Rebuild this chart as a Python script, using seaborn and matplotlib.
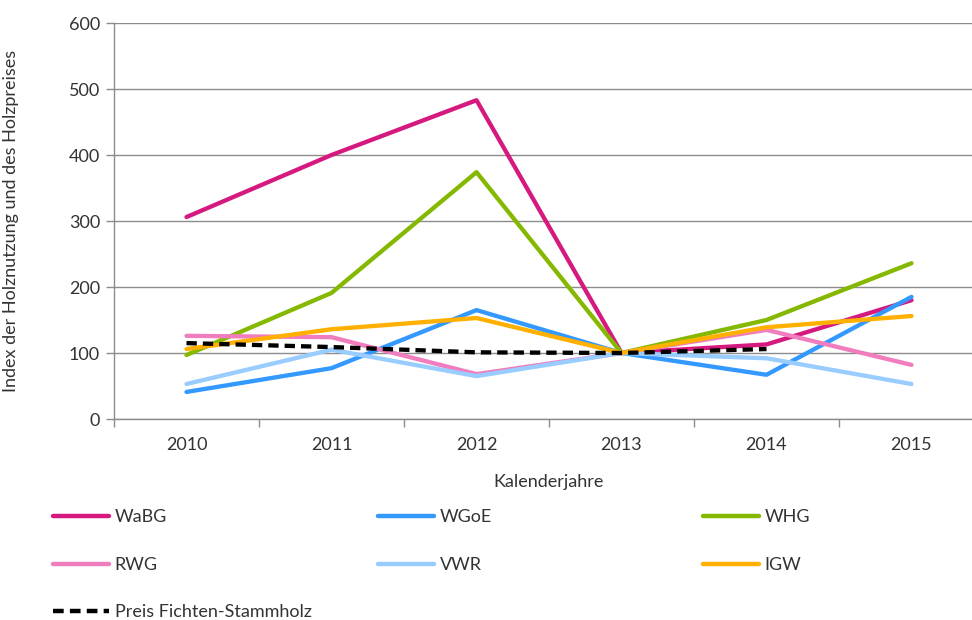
import numpy as np
import pandas as pd
import seaborn as sns
import matplotlib
matplotlib.use("Agg")
import matplotlib.pyplot as plt

years = ["2010", "2011", "2012", "2013", "2014", "2015"]
wabg = [306, 400, 483, 100, 113, 180]
wgoe = [41, 77, 165, 100, 67, 185]
whg = [97, 191, 374, 100, 150, 236]
rwg = [126, 124, 68, 100, 135, 82]
vwr = [53, 105, 65, 100, 92, 53]
igw = [106, 136, 153, 100, 139, 156]
preis = [115, 109, 101, 100, 106, np.nan]

series_names = ["WaBG", "WGoE", "WHG", "RWG", "VWR", "IGW", "Preis Fichten-Stammholz"]
series_vals = [wabg, wgoe, whg, rwg, vwr, igw, preis]
colors = ["#D6197E", "#3399FF", "#85B800", "#F07EBE", "#99CCFF", "#FFB000", "#000000"]

rows = []
for name, vals in zip(series_names, series_vals):
    for i, v in enumerate(vals):
        rows.append({"x": i, "value": v, "series": name})
df = pd.DataFrame(rows)

sns.set_theme(style="white")
plt.rcParams['font.family'] = ['Lato', 'DejaVu Sans']
TXT = '#333333'
FS = 13

fig = plt.figure(figsize=(9.72, 6.2), dpi=100)
W, H = 972, 620
ax = fig.add_axes([114 / W, 1 - 419 / H, (984 - 114) / W, (419 - 23) / H])

palette = dict(zip(series_names, colors))
dashes = {n: "" for n in series_names}
dashes["Preis Fichten-Stammholz"] = (2.4, 1.4)
sns.lineplot(data=df, x="x", y="value", hue="series", style="series",
             hue_order=series_names, style_order=series_names,
             palette=palette, dashes=dashes, linewidth=3.1, ax=ax,
             legend=True, sort=False)

ax.set_xlim(-0.5, 5.5)
ax.set_ylim(0, 600)
ax.set_yticks(range(0, 601, 100))
ax.set_xticks(range(6))
ax.set_xticklabels(years)
ax.set_xticks(np.arange(-0.5, 5.6, 1), minor=True)
ax.tick_params(axis='x', which='major', length=0, pad=13, labelsize=FS, labelcolor=TXT)
ax.tick_params(axis='x', which='minor', length=6, width=1, color='#8c8c8c', bottom=True)
ax.tick_params(axis='y', length=6, width=1, color='#8c8c8c', left=True, pad=4,
               labelsize=FS, labelcolor=TXT)
ax.yaxis.grid(True, color='#8c8c8c', linewidth=1)
ax.xaxis.grid(False)
ax.set_axisbelow(True)
for s in ["top", "right"]:
    ax.spines[s].set_visible(False)
for s in ["left", "bottom"]:
    ax.spines[s].set_color('#8c8c8c')
    ax.spines[s].set_linewidth(1)

ax.set_xlabel("Kalenderjahre", fontsize=FS, color=TXT, labelpad=15)
ax.set_ylabel("Index der Holznutzung und des Holzpreises", fontsize=FS, color=TXT)
ax.yaxis.set_label_coords(-(114 - 19) / (984 - 114), 0.5)

handles, labels = ax.get_legend_handles_labels()
ax.get_legend().remove()
hmap = dict(zip(labels, handles))
cols = [(["WaBG", "RWG", "Preis Fichten-Stammholz"], 55),
        (["WGoE", "VWR"], 380),
        (["WHG", "IGW"], 705)]
for names, xpx in cols:
    hs = [hmap[n] for n in names]
    for h in hs:
        h.set_linewidth(3.2)
    leg = fig.legend(hs, names, loc='upper left',
                     bbox_to_anchor=((xpx - 7) / W, 1 - 504 / H),
                     frameon=False, handlelength=3.1, handletextpad=0.3,
                     labelspacing=1.74, borderpad=0.3, borderaxespad=0,
                     prop={'size': FS})
    for t in leg.get_texts():
        t.set_color(TXT)

fig.savefig("out.png", dpi=100)
